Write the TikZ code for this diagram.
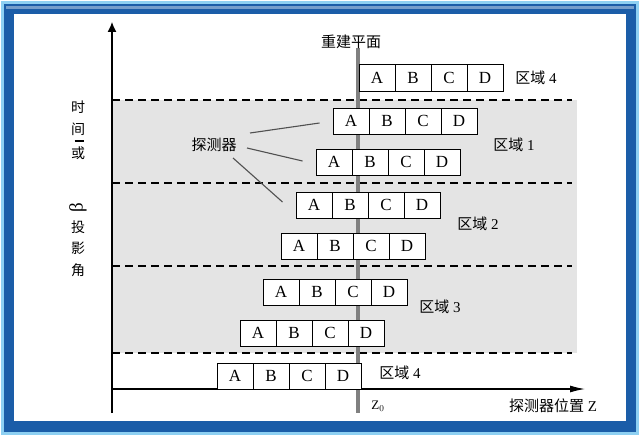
\documentclass[tikz,border=0pt]{standalone}
\usepackage{fontspec}
\usepackage{tikz}
\usepackage{xcolor}
\usetikzlibrary{arrows.meta}
\usetikzlibrary{positioning}
\setmainfont{Liberation Serif}
\newfontfamily\cjk{Noto Sans CJK SC}
\definecolor{Frame Blue}{HTML}{1B5DA8}
\definecolor{Frame Light}{HTML}{8ED0F2}
\definecolor{Zone Gray}{HTML}{E4E4E4}
\definecolor{Plane Gray}{HTML}{808080}
\definecolor{Leader Gray}{HTML}{505050}

\begin{document}
\begin{tikzpicture}[x=1pt, y=-1pt,
    cell/.style={draw, fill=white, line width=1pt, minimum width=36pt,
        minimum height=26pt, inner sep=0pt, font=\fontsize{17}{17}\selectfont},
    zh/.style={inner sep=0pt, font=\fontsize{15}{15}\selectfont},
    zoneline/.style={dashed, dash pattern=on 8pt off 5pt, line width=1.2pt},
    leader/.style={Leader Gray, line width=1.1pt},
    axis/.style={line width=1.2pt}]
    \useasboundingbox (0,0) rectangle (640,436);
    % Blue picture frame
    \fill[Frame Light] (1,1) rectangle (639,435);
    \fill[Frame Blue] (4,4) rectangle (636,432);
    \fill[Frame Blue!60!white] (6,6) rectangle (634,9);
    \fill[white] (14,14) rectangle (626,421);

    % Gray zones and dashed borders
    \fill[Zone Gray] (112,100) rectangle (577,353);
    \foreach \y in {100,183,266,353} {
        \draw[zoneline] (112,\y) -- (572,\y);
    }

    % Axes
    \coordinate (ybot) at (112,413);
    \coordinate (ytop) at (112,22);
    \coordinate (origin) at (112,389);
    \coordinate (xend) at (585,389);
    \draw[axis, -{Latex[length=10pt,width=9pt]}] (ybot) -- (ytop);
    \draw[axis, -{Latex[length=15pt,width=7pt]}] (origin) -- (xend);

    % Reconstruction plane
    \coordinate (ptop) at (358,48);
    \coordinate (pbot) at (358,413);
    \draw[Plane Gray, line width=3.5pt] (ptop) -- (pbot);
    \node[zh] (plane) at (351,42) {\cjk 重建平面};

    % Detector rows A B C D
    \foreach \x/\y [count=\i] in {
        359/78, 333/121, 316/162, 296/205,
        281/246, 263/292, 240/333, 217/376
    } {
        \foreach \l [count=\j from 0] in {A,B,C,D} {
            \node[cell] (r\i-\l) at (\x+18+36*\j, \y) {\l};
        }
    }

    % Zone labels
    \node[zh] (zone4a) at (536,78) {{\cjk 区域}~4};
    \node[zh] (zone1) at (514,145) {{\cjk 区域}~1};
    \node[zh] (zone2) at (478,224) {{\cjk 区域}~2};
    \node[zh] (zone3) at (440,307) {{\cjk 区域}~3};
    \node[zh] (zone4b) at (400,373) {{\cjk 区域}~4};

    % Axis labels
    \node[font=\fontsize{13}{13}\selectfont] (z0) at (378,406) {Z$_0$};
    \node[zh] (xlab) at (553,406) {{\cjk 探测器位置}~Z};
    \foreach \c/\y [count=\k] in {时/107, 间/129, 或/153, 投/227, 影/248, 角/270} {
        \node[zh, font=\fontsize{14}{14}\selectfont] (ylab\k) at (78,\y) {\cjk \c};
    }
    \node[inner sep=0pt] (ybar) at (79,141) {\rule{9pt}{2pt}};
    \node[zh, rotate=90, font=\fontsize{19}{19}\selectfont] (beta) at (78,208) {β};

    % Detector label with leaders
    \node[zh] (det) at (214,145) {\cjk 探测器};
    \draw[leader] ([shift={(36,-12)}]det.center) -- ([shift={(-13,2)}]r2-A.west);
    \draw[leader] ([shift={(33,3)}]det.center) -- ([shift={(-13,-1)}]r3-A.west);
    \draw[leader] ([shift={(19,13)}]det.center) -- ([shift={(-13,-3)}]r4-A.west);
\end{tikzpicture}
\end{document}
